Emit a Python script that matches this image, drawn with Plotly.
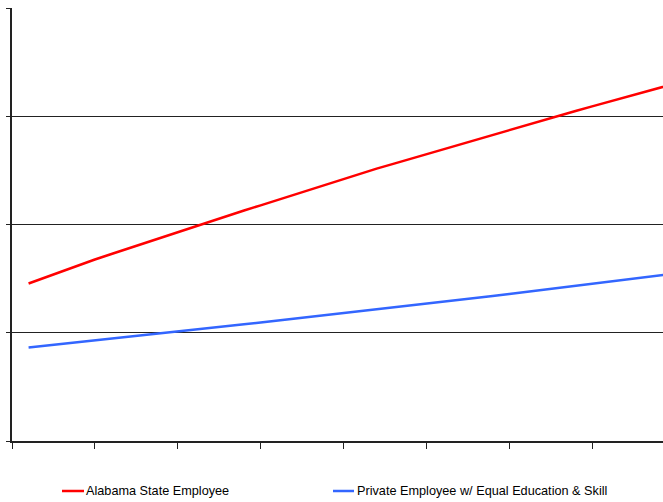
import plotly.graph_objects as go

# Period index (one point per year of service)
periods = list(range(1, 41))

# Relative earnings
state_employee = [
    1.455, 1.512, 1.569, 1.626, 1.677, 1.728, 1.779, 1.829, 1.881, 1.932,
    1.982, 2.032, 2.080, 2.129, 2.177, 2.226, 2.275, 2.323, 2.371, 2.420,
    2.468, 2.516, 2.560, 2.605, 2.651, 2.696, 2.740, 2.785, 2.830, 2.876,
    2.920, 2.965, 3.007, 3.049, 3.091, 3.134, 3.176, 3.218, 3.260, 3.302,
]
private_employee = [
    0.864, 0.880, 0.896, 0.912, 0.929, 0.945, 0.962, 0.978, 0.994, 1.010,
    1.027, 1.043, 1.061, 1.078, 1.095, 1.112, 1.129, 1.147, 1.163, 1.181,
    1.197, 1.215, 1.231, 1.249, 1.266, 1.283, 1.301, 1.320, 1.339, 1.358,
    1.377, 1.395, 1.415, 1.433, 1.453, 1.471, 1.490, 1.509, 1.528, 1.547,
]

series_names = ["Alabama State Employee", "Private Employee w/ Equal Education & Skill"]
series_colors = ["#FF0000", "#3366FF"]

W, H = 663, 502
ML, MT, MB, MR = 12, 8, 61, 0
plot_w = W - ML - MR
plot_h = H - MT - MB

fig = go.Figure()
for name, vals, color in zip(series_names, [state_employee, private_employee], series_colors):
    fig.add_trace(go.Scatter(
        x=periods, y=vals, name=name, mode="lines",
        line=dict(color=color, width=2.5),
        showlegend=False,
    ))

fig.update_layout(
    width=W, height=H,
    margin=dict(l=ML, r=MR, t=MT, b=MB),
    paper_bgcolor="white", plot_bgcolor="white",
    font=dict(family="Liberation Sans, Arial, sans-serif", size=12.7, color="black"),
)
fig.update_xaxes(
    range=[0, plot_w / 16.575],
    tick0=0, dtick=5, showticklabels=False,
    ticks="outside", ticklen=6, tickcolor="#222", tickwidth=1.2,
    showline=True, linecolor="#222", linewidth=1.5,
    showgrid=False, zeroline=False,
)
fig.update_yaxes(
    range=[0, 4],
    tick0=0, dtick=1, showticklabels=False,
    ticks="outside", ticklen=4, tickcolor="#222", tickwidth=1.2,
    showline=True, linecolor="#222", linewidth=1.5,
    showgrid=True, gridcolor="#222", gridwidth=1.2,
    zeroline=False,
)

# Legend row below the plot
legend_y = (441 - 491) / plot_h
legend_items = [(62, 84, 84), (333, 354, 355)]
for (x0, x1, xt), name, color in zip(legend_items, series_names, series_colors):
    fig.add_shape(
        type="line", xref="paper", yref="paper",
        x0=(x0 - ML) / plot_w, x1=(x1 - ML) / plot_w, y0=legend_y, y1=legend_y,
        line=dict(color=color, width=2.5),
    )
    fig.add_annotation(
        xref="paper", yref="paper", x=(xt - ML) / plot_w, y=legend_y,
        text=name, showarrow=False, xanchor="left", yanchor="middle",
        font=dict(size=12.7, color="black"),
    )

fig.write_html("out.html")
